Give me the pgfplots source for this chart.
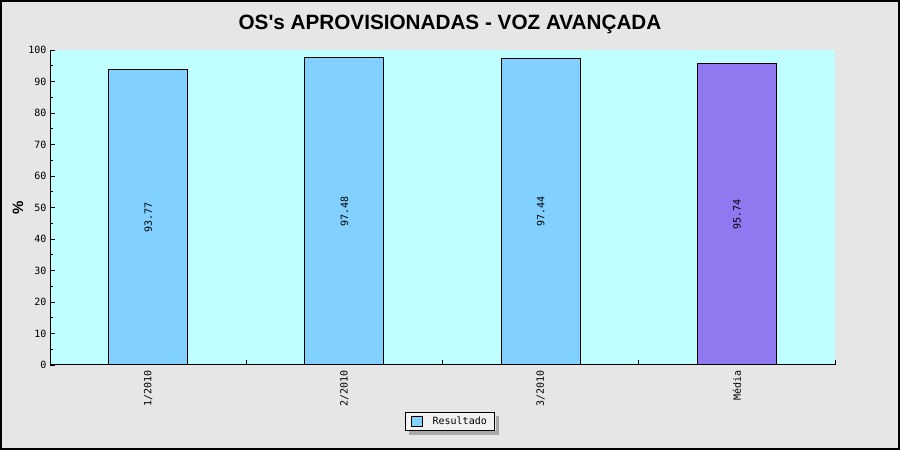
\documentclass[border=0pt]{standalone}
\usepackage{fontspec}
\setmainfont{Liberation Sans}
\newfontfamily\titlefont{Liberation Sans}
\newfontfamily\monof{DejaVu Sans Mono}
\usepackage{pgfplots}
\pgfplotsset{compat=1.18}
\usetikzlibrary{calc}
\definecolor{pagebg}{HTML}{E6E6E6}
\definecolor{plotbg}{HTML}{C0FFFF}
\definecolor{barblue}{HTML}{82D0FF}
\definecolor{barpurple}{HTML}{9078F0}
\definecolor{legbg}{HTML}{F2F2F2}
\definecolor{shadowc}{HTML}{A8A8A8}
\begin{document}
\begin{tikzpicture}[x=1pt,y=1pt]
\useasboundingbox (0,0) rectangle (900,450);
\fill[pagebg] (0,0) rectangle (900,450);
\draw[line width=2pt] (1,1) rectangle (899,449);
\node[font=\titlefont\bfseries\fontsize{20.7}{24}\selectfont] at (450,426) {OS's APROVISIONADAS - VOZ AVANÇADA};
\begin{axis}[
  at={(50pt,85pt)}, anchor=south west,
  scale only axis, width=785pt, height=315pt,
  xmin=-0.5, xmax=3.5, ymin=0, ymax=100,
  axis x line*=bottom, axis y line*=left,
  axis line style={line width=1pt,-},
  axis background/.style={fill=plotbg},
  tick align=inside,
  major tick length=5pt, minor tick length=3pt,
  every tick/.style={black, line width=0.8pt},
  /pgf/number format/assume math mode=true,
  ytick={0,10,...,100}, minor ytick={5,15,...,95},
  xtick={0.5,1.5,2.5,3.5}, xticklabels={},
  extra x ticks={0,1,2,3},
  extra x tick labels={1/2010,2/2010,3/2010,Média},
  extra x tick style={major tick length=0pt,
     xticklabel style={rotate=90, anchor=east, inner xsep=5pt, font=\monof\fontsize{10}{12}\selectfont}},
  yticklabel style={font=\monof\fontsize{10}{12}\selectfont},
  ylabel={\%},
  every axis y label/.style={at={(axis description cs:-0.0408,0.5)}, rotate=90, anchor=center, font=\titlefont\bfseries\fontsize{15}{18}\selectfont},
  legend style={name=leg, at={(axis description cs:0.5096,0)}, anchor=center, yshift=-56.5pt,
     fill=legbg, draw=black, line width=0.8pt,
     font=\monof\fontsize{10}{12}\selectfont, inner xsep=6pt, inner ysep=2.5pt},
]
\addplot[ybar, bar width=79pt, bar shift=0pt, fill=barblue, draw=black, line width=1pt,
  legend image code/.code={\draw[fill=barblue, draw=black, line width=0.8pt] (0pt,-5pt) rectangle (11pt,5pt); \path[draw=none,fill=none] (0pt,0pt) -- (19pt,0pt);}]
  coordinates {(0,93.77) (1,97.48) (2,97.44)};
\addlegendentry{Resultado}
\addplot[ybar, bar width=79pt, bar shift=0pt, fill=barpurple, draw=black, line width=1pt, forget plot]
  coordinates {(3,95.74)};
\addplot[draw=none, mark=none, forget plot, nodes near coords, point meta=explicit symbolic,
  every node near coord/.style={anchor=center, rotate=90, font=\monof\fontsize{10}{12}\selectfont}]
  coordinates {(0,46.885)[93.77] (1,48.74)[97.48] (2,48.72)[97.44] (3,47.87)[95.74]};
\end{axis}
\fill[shadowc] ($(leg.south west)+(4,-4)$) rectangle ($(leg.south east)+(4,-0.4)$);
\fill[shadowc] ($(leg.south east)+(0.4,-4)$) rectangle ($(leg.north east)+(4,-4)$);
\end{tikzpicture}
\end{document}
